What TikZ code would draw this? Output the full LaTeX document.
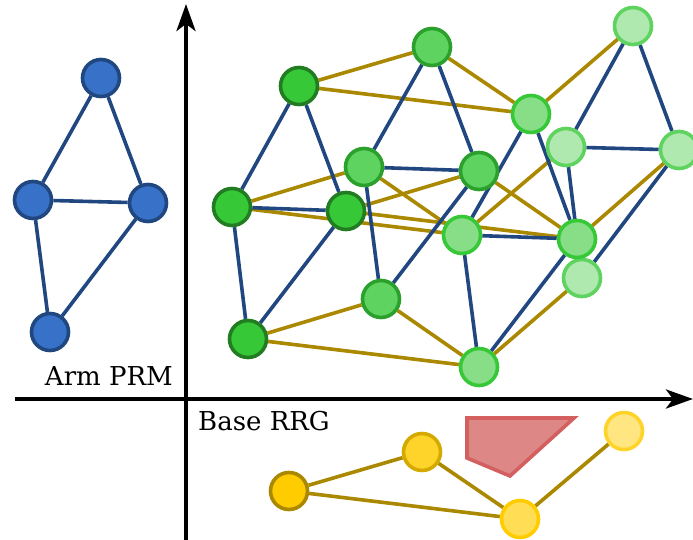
\documentclass[tikz,border=0pt]{standalone}
\usepackage{fontspec}
\setmainfont{DejaVu Serif}
\usetikzlibrary{arrows.meta,backgrounds}

\definecolor{armfill}{RGB}{55,113,200}
\definecolor{armline}{RGB}{33,71,128}
\definecolor{goldline}{RGB}{170,136,0}
\definecolor{obsfill}{RGB}{222,135,135}
\definecolor{obsline}{RGB}{211,95,95}

\begin{document}
\begin{tikzpicture}[x=1pt, y=-1pt, every node/.style={font=\fontsize{26}{30}\selectfont}, >={Stealth[length=27pt, width=19pt, inset=7pt]},
	vtx/.style={circle, line width=3.6pt, minimum size=37pt, inner sep=0pt},
	arm/.style={vtx, fill=armfill, draw=armline},
	g1/.style={vtx, fill={rgb,255:red,55;green,200;blue,55}, draw={rgb,255:red,34;green,125;blue,34}},
	g2/.style={vtx, fill={rgb,255:red,95;green,211;blue,95}, draw={rgb,255:red,44;green,160;blue,44}},
	g3/.style={vtx, fill={rgb,255:red,135;green,222;blue,135}, draw={rgb,255:red,55;green,200;blue,55}},
	g4/.style={vtx, fill={rgb,255:red,175;green,233;blue,175}, draw={rgb,255:red,95;green,211;blue,95}},
	y1/.style={vtx, fill={rgb,255:red,255;green,204;blue,0}, draw={rgb,255:red,170;green,136;blue,0}},
	y2/.style={vtx, fill={rgb,255:red,255;green,212;blue,42}, draw={rgb,255:red,212;green,170;blue,0}},
	y3/.style={vtx, fill={rgb,255:red,255;green,221;blue,85}, draw={rgb,255:red,255;green,204;blue,0}},
	y4/.style={vtx, fill={rgb,255:red,255;green,230;blue,128}, draw={rgb,255:red,255;green,212;blue,42}},
	armedge/.style={draw=armline, line width=3.6pt},
	goldedge/.style={draw=goldline, line width=3.6pt}]
	\useasboundingbox (0,0) rectangle (693,540);

	% axes
	\draw[->, line width=4pt] (186,540) -- (186,4);
	\draw[->, line width=4pt] (15,399) -- (693,399);
	\node[anchor=base east, inner sep=0pt] (armlabel) at (173,385) {Arm PRM};
	\node[anchor=base west, inner sep=0pt] (baselabel) at (198,430) {Base RRG};

	% arm roadmap
	\foreach \n/\x/\y in {a1/101/78, a2/33/200, a3/148/203, a4/50/332}
		\node[arm] (\n) at (\x,\y) {};

	% base roadmap and obstacle
	\draw[line width=3.6pt, fill=obsfill, draw=obsline] (467,418) -- (574,418) -- (510,476) -- (467,458) -- cycle;
	\foreach \n/\x/\y/\s in {b1/289/491/y1, b2/422/452/y2, b3/520/519/y3, b4/624/431/y4}
		\node[\s] (\n) at (\x,\y) {};

	% product graph: g<arm><base>
	\foreach \n/\x/\y/\s in {g44/582/278/g4, g41/248/339/g1, g42/381/299/g2, g43/479/367/g3,
			g31/346/211/g1, g32/479/171/g2, g33/577/239/g3, g34/679/150/g4,
			g21/232/207/g1, g22/364/167/g2, g23/462/235/g3,
			g11/299/86/g1, g12/432/47/g2, g13/531/114/g3, g14/633/26/g4, g24/566/147/g4}
		\node[\s] (\n) at (\x,\y) {};

	\begin{scope}[on background layer]
		\foreach \u/\v in {a1/a2, a1/a3, a2/a3, a2/a4, a3/a4}
			\draw[armedge] (\u) -- (\v);
		\foreach \u/\v in {b1/b2, b1/b3, b2/b3, b3/b4}
			\draw[goldedge] (\u) -- (\v);
		\foreach \i in {1,...,4}
			\foreach \u/\v in {1/2, 1/3, 2/3, 3/4}
				\draw[goldedge] (g\i\u) -- (g\i\v);
		\foreach \k in {1,...,4}
			\foreach \u/\v in {1/2, 1/3, 2/3, 2/4, 3/4}
				\draw[armedge] (g\u\k) -- (g\v\k);
	\end{scope}
\end{tikzpicture}
\end{document}
